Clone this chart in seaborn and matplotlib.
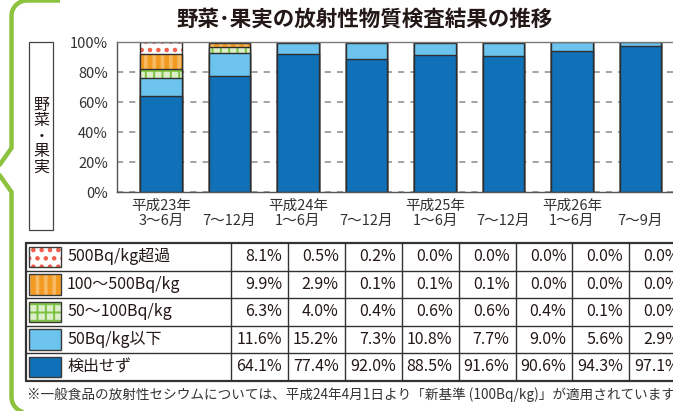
import numpy as np
import pandas as pd
import matplotlib
matplotlib.use("Agg")
import matplotlib.pyplot as plt
import seaborn as sns

# ---------------- data ----------------
periods = ["H23a", "H23b", "H24a", "H24b", "H25a", "H25b", "H26a", "H26b"]
year_labels = ["平成23年", "", "平成24年", "", "平成25年", "", "平成26年", ""]
month_labels = ["3〜6月", "7〜12月", "1〜6月", "7〜12月", "1〜6月", "7〜12月", "1〜6月", "7〜9月"]

categories = ["500Bq/kg超過", "100〜500Bq/kg", "50〜100Bq/kg", "50Bq/kg以下", "検出せず"]
over500 = [8.1, 0.5, 0.2, 0.0, 0.0, 0.0, 0.0, 0.0]
r100_500 = [9.9, 2.9, 0.1, 0.1, 0.1, 0.0, 0.0, 0.0]
r50_100 = [6.3, 4.0, 0.4, 0.6, 0.6, 0.4, 0.1, 0.0]
under50 = [11.6, 15.2, 7.3, 10.8, 7.7, 9.0, 5.6, 2.9]
not_detected = [64.1, 77.4, 92.0, 88.5, 91.6, 90.6, 94.3, 97.1]
series = [over500, r100_500, r50_100, under50, not_detected]

yticks = [0, 20, 40, 60, 80, 100]
title = "野菜･果実の放射性物質検査結果の推移"
side_label = "野菜・果実"
footnote = "※一般食品の放射性セシウムについては、平成24年4月1日より「新基準 (100Bq/kg)」が適用されています。"

# ---------------- styles ----------------
styles = [
    dict(face="#FFFFFF", hatch="..", hcolor="#EE5B48", hlw=2.0),
    dict(face="#F39A22", hatch="||", hcolor="#F8B963", hlw=2.6),
    dict(face="#DCEFC8", hatch="++", hcolor="#7DC142", hlw=1.4),
    dict(face="#6CC4EE", hatch=None, hcolor="#6CC4EE", hlw=1.0),
    dict(face="#1070B8", hatch=None, hcolor="#1070B8", hlw=1.0),
]
EDGE = "#2E2E2E"
TXT = "#231815"

sns.set_theme(style="white")
plt.rcParams["font.family"] = ["Noto Sans CJK JP", "DejaVu Sans"]

W, H = 673, 411
fig = plt.figure(figsize=(W / 100, H / 100), dpi=100)

# overlay axes in pixel coordinates (frame, table, texts)
ov = fig.add_axes([0, 0, 1, 1])
ov.set_xlim(0, W)
ov.set_ylim(H, 0)
ov.axis("off")
ov.set_zorder(0)

# main plot axes
ax_left, ax_top, ax_bottom = 117, 42, 192
spacing = 68.5
ax = fig.add_axes([ax_left / W, 1 - ax_bottom / H, (W - ax_left) / W, (ax_bottom - ax_top) / H])
ax.set_zorder(1)

df = pd.DataFrame({"period": periods})
cum = np.zeros(len(periods))
cums = []
for s in series[::-1]:
    cum = cum + np.array(s)
    cums.append(cum.copy())
cums = cums[::-1]  # cums[i] = top of category i (top->bottom order)

for i, st in enumerate(styles):
    df["cum"] = cums[i]
    n0 = len(ax.patches)
    with plt.rc_context({"hatch.linewidth": st["hlw"]}):
        sns.barplot(data=df, x="period", y="cum", color=st["face"], saturation=1,
                    width=0.613, errorbar=None, hatch=st["hatch"],
                    edgecolor=st["hcolor"], linewidth=0, ax=ax)
    for p in ax.patches[n0:]:
        p.set_facecolor(st["face"])
        if hasattr(p, "set_hatch_linewidth"):
            p.set_hatch_linewidth(st["hlw"])
    sns.barplot(data=df, x="period", y="cum", color=EDGE, saturation=1, fill=False,
                width=0.613, errorbar=None, linewidth=1.0, ax=ax)

ax.set_xlim(-44 / spacing, -44 / spacing + (W - ax_left) / spacing)
ax.set_ylim(0, 100)
ax.set_yticks(yticks)
ax.set_yticklabels([f"{v}%" for v in yticks], fontsize=10.5, color="#333333")
ax.set_xticks(range(len(periods)))
ax.set_xticklabels([f"{y}\n{m}" for y, m in zip(year_labels, month_labels)],
                   fontsize=10.5, color="#333333", linespacing=1.05)
ax.tick_params(axis="both", length=0)
ax.tick_params(axis="y", pad=6.5)
ax.tick_params(axis="x", pad=5)
ax.set_xlabel("")
ax.set_ylabel("")
ax.set_axisbelow(True)
ax.yaxis.grid(True, color="#8A8A8A", linewidth=1.1, linestyle=(0, (4, 4)))
ax.xaxis.grid(False)
for side in ["left", "bottom", "top"]:
    ax.spines[side].set_color("#555555")
    ax.spines[side].set_linewidth(1.0)
ax.spines["right"].set_visible(False)
ax.spines["top"].set_color("#7A7A7A")

# ---------------- green frame ----------------
gx = 11.5
t1 = np.linspace(np.pi, 1.5 * np.pi, 20)
top_arc = np.c_[27 + 15.5 * np.cos(t1), 16 + 15.5 * np.sin(t1)][::-1]
t2 = np.linspace(np.pi, 0.5 * np.pi, 20)
bot_arc = np.c_[27 + 15.5 * np.cos(t2), 397 + 15.5 * np.sin(t2)]
frame = np.vstack([
    [[60, 0.5]], top_arc,
    [[gx, 148], [-4, 170], [gx, 192]],
    bot_arc, [[60, 412.5]],
])
ov.plot(frame[:, 0], frame[:, 1], color="#8DC23F", linewidth=3.2,
        solid_joinstyle="miter", solid_capstyle="butt", clip_on=False)

# ---------------- side label box ----------------
ov.add_patch(plt.Rectangle((29, 42), 24, 188, fill=False, edgecolor="#444444", linewidth=0.9))
ov.text(41.5, 136, "\n".join(side_label), ha="center", va="center", fontsize=11.5,
        color=TXT, linespacing=0.88)

# ---------------- title ----------------
ov.text(365, 19, title, ha="center", va="center", fontsize=15.5, fontweight="bold", color=TXT)

# ---------------- table ----------------
row_top, row_h = 243, 27.5
tab_left, first_div, col_w = 26, 231, 56.9
n_rows = len(categories)
row_edges = [row_top + k * row_h for k in range(n_rows + 1)]
col_edges = [first_div + k * col_w for k in range(len(periods) + 1)]
for k, y in enumerate(row_edges):
    lw = 1.6 if k in (0, n_rows) else 1.0
    ov.plot([tab_left, W + 20], [y, y], color="#333333", linewidth=lw, clip_on=False)
ov.plot([tab_left, tab_left], [row_edges[0], row_edges[-1]], color="#333333", linewidth=1.6)
for x in col_edges:
    ov.plot([x, x], [row_edges[0], row_edges[-1]], color="#333333", linewidth=1.0)

for i, (cat, vals, st) in enumerate(zip(categories, series, styles)):
    yt, yb = row_edges[i], row_edges[i + 1]
    with plt.rc_context({"hatch.linewidth": st["hlw"]}):
        sw = plt.Rectangle((29, yt + 3.5), 32, row_h - 7, facecolor=st["face"],
                           hatch=st["hatch"], edgecolor=st["hcolor"], linewidth=0)
    if hasattr(sw, "set_hatch_linewidth"):
        sw.set_hatch_linewidth(st["hlw"])
    ov.add_patch(sw)
    ov.add_patch(plt.Rectangle((29, yt + 3.5), 32, row_h - 7, fill=False,
                               edgecolor="#3A3A3A", linewidth=1.0))
    yc = (yt + yb) / 2
    ov.text(67, yc, cat, ha="left", va="center", fontsize=11.5, color=TXT)
    for j, v in enumerate(vals):
        ov.text(col_edges[j + 1] - 6, yc, f"{v:.1f}%", ha="right", va="center",
                fontsize=11.5, color=TXT, clip_on=False)

# ---------------- footnote ----------------
ov.text(27, 395, footnote, ha="left", va="center", fontsize=9.8, color="#333333")

fig.savefig("out.png", dpi=100)
